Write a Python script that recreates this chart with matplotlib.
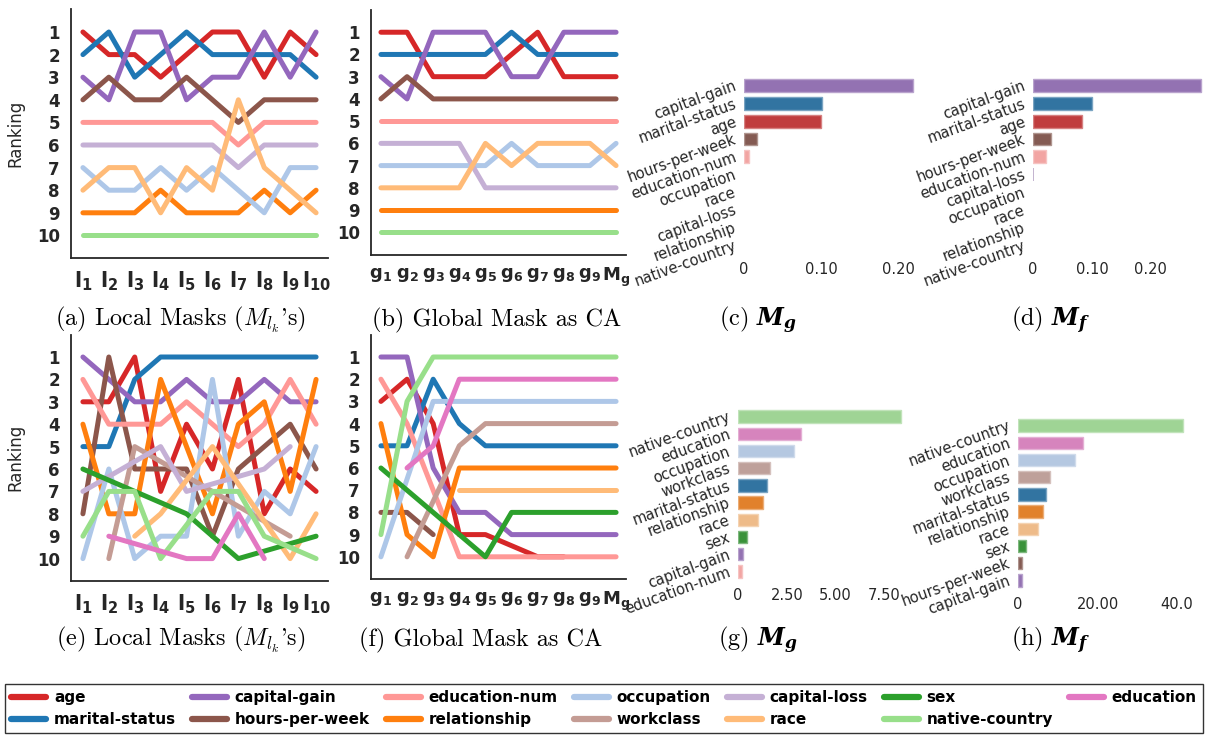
import numpy as np
import matplotlib
matplotlib.use("Agg")
import matplotlib.pyplot as plt
from matplotlib.lines import Line2D
import colorsys
import matplotlib.colors as mcolors

N = np.nan

# ---------------- data ----------------
features = ['age', 'marital-status', 'capital-gain', 'hours-per-week', 'education-num',
            'relationship', 'occupation', 'workclass', 'capital-loss', 'race', 'sex',
            'native-country', 'education']

local_ticks = [r'$\mathbf{l_{%d}}$' % i for i in range(1, 11)]
global_ticks = [r'$\mathbf{g_{%d}}$' % i for i in range(1, 10)] + [r'$\mathbf{M_g}$']
rank_ticks = list(range(1, 11))

# (a) local masks, top row
rank_a = {
    'age':            [1, 2, 2, 3, 2, 1, 1, 3, 1, 2],
    'marital-status': [2, 1, 3, 2, 1, 2, 2, 2, 2, 3],
    'capital-gain':   [3, 4, 1, 1, 4, 3, 3, 1, 3, 1],
    'hours-per-week': [4, 3, 4, 4, 3, 4, 5, 4, 4, 4],
    'education-num':  [5, 5, 5, 5, 5, 5, 6, 5, 5, 5],
    'capital-loss':   [6, 6, 6, 6, 6, 6, 7, 6, 6, 6],
    'occupation':     [7, 8, 8, 7, 8, 7, 8, 9, 7, 7],
    'race':           [8, 7, 7, 9, 7, 8, 4, 7, 8, 9],
    'relationship':   [9, 9, 9, 8, 9, 9, 9, 8, 9, 8],
    'native-country': [10, 10, 10, 10, 10, 10, 10, 10, 10, 10],
}
# (b) global mask as CA, top row
rank_b = {
    'age':            [1, 1, 3, 3, 3, 2, 1, 3, 3, 3],
    'marital-status': [2, 2, 2, 2, 2, 1, 2, 2, 2, 2],
    'capital-gain':   [3, 4, 1, 1, 1, 3, 3, 1, 1, 1],
    'hours-per-week': [4, 3, 4, 4, 4, 4, 4, 4, 4, 4],
    'education-num':  [5, 5, 5, 5, 5, 5, 5, 5, 5, 5],
    'capital-loss':   [6, 6, 6, 6, 8, 8, 8, 8, 8, 8],
    'occupation':     [7, 7, 7, 7, 7, 6, 7, 7, 7, 6],
    'race':           [8, 8, 8, 8, 6, 7, 6, 6, 6, 7],
    'relationship':   [9, 9, 9, 9, 9, 9, 9, 9, 9, 9],
    'native-country': [10, 10, 10, 10, 10, 10, 10, 10, 10, 10],
}
# (e) local masks, bottom row
rank_e = {
    'age':            [3, 3, 1, 7, 4, 6, 2, 8, 6, 7],
    'marital-status': [5, 5, 2, 1, 1, 1, 1, 1, 1, 1],
    'capital-gain':   [1, 2, 3, 3, 2, 3, 3, 2, 3, 3],
    'hours-per-week': [8, 1, 6, 6, 6, 9, 6, 5, 4, 6],
    'education-num':  [2, 4, 4, 4, 3, 4, 5, 4, 2, 4],
    'relationship':   [4, 8, 8, 2, 5, 8, 4, 3, 7, 2],
    'occupation':     [10, 6, 10, 9, 9, 2, 9, 7, 8, 5],
    'workclass':      [N, 10, 5, N, N, N, N, N, 9, N],
    'capital-loss':   [7, N, N, 5, 7, N, N, 6, 5, N],
    'race':           [N, N, 9, 8, N, 5, N, N, 10, 8],
    'sex':            [6, N, N, N, 8, 9, 10, N, N, 9],
    'native-country': [9, 7, 7, 10, N, 7, 7, 9, N, 10],
    'education':      [N, 9, N, N, 10, 10, 8, 10, N, N],
}
# (f) global mask as CA, bottom row
rank_f = {
    'age':            [3, 2, 4, 9, 9, N, 10, 10, N, N],
    'marital-status': [5, 5, 2, 4, 5, 5, 5, 5, 5, 5],
    'capital-gain':   [1, 1, 6, 8, 8, 9, 9, 9, 9, 9],
    'hours-per-week': [8, 8, 9, N, N, N, N, N, N, N],
    'education-num':  [2, 4, 7, 10, 10, 10, 10, 10, 10, 10],
    'relationship':   [4, 9, 10, 6, 6, 6, 6, 6, 6, 6],
    'occupation':     [10, N, 3, 3, 3, 3, 3, 3, 3, 3],
    'workclass':      [N, 10, N, 5, 4, 4, 4, 4, 4, 4],
    'race':           [N, N, N, 7, 7, 7, 7, 7, 7, 7],
    'sex':            [6, N, N, N, 10, 8, 8, 8, 8, 8],
    'native-country': [9, 3, 1, 1, 1, 1, 1, 1, 1, 1],
    'education':      [N, 6, 5, 2, 2, 2, 2, 2, 2, 2],
}

# bar panels
c_labels = ['capital-gain', 'marital-status', 'age', 'hours-per-week', 'education-num',
            'occupation', 'race', 'capital-loss', 'relationship', 'native-country']
c_values = [0.219, 0.101, 0.100, 0.0165, 0.0065, 0, 0, 0, 0, 0]
c_ticks = [0, 0.10, 0.20]
c_ticklabels = ['0', '0.10', '0.20']

d_labels = ['capital-gain', 'marital-status', 'age', 'hours-per-week', 'education-num',
            'capital-loss', 'occupation', 'race', 'relationship', 'native-country']
d_values = [0.285, 0.100, 0.083, 0.031, 0.022, 0.0015, 0, 0, 0, 0]
d_ticks = [0, 0.10, 0.20]
d_ticklabels = ['0', '0.10', '0.20']

g_labels = ['native-country', 'education', 'occupation', 'workclass', 'marital-status',
            'relationship', 'race', 'sex', 'capital-gain', 'education-num']
g_values = [8.36, 3.23, 2.87, 1.64, 1.49, 1.28, 1.0, 0.44, 0.24, 0.22]
g_ticks = [0, 2.5, 5.0, 7.5]
g_ticklabels = ['0', '2.50', '5.00', '7.50']

h_labels = ['native-country', 'education', 'occupation', 'workclass', 'marital-status',
            'relationship', 'race', 'sex', 'hours-per-week', 'capital-gain']
h_values = [41.5, 16.3, 14.3, 8.0, 7.0, 6.2, 5.0, 2.0, 1.1, 1.1]
h_ticks = [0, 20, 40]
h_ticklabels = ['0', '20.00', '40.0']

captions = [r"(a) Local Masks ($M_{l_k}$'s)", "(b) Global Mask as CA",
            r"(c) $\mathbfit{M_g}$", r"(d) $\mathbfit{M_f}$",
            r"(e) Local Masks ($M_{l_k}$'s)", "(f) Global Mask as CA",
            r"(g) $\mathbfit{M_g}$", r"(h) $\mathbfit{M_f}$"]

# ---------------- style ----------------
colors = {
    'age': '#d62728', 'marital-status': '#1f77b4', 'capital-gain': '#9467bd',
    'hours-per-week': '#8c564b', 'education-num': '#ff9896', 'relationship': '#ff7f0e',
    'occupation': '#aec7e8', 'workclass': '#c49c94', 'capital-loss': '#c5b0d5',
    'race': '#ffbb78', 'sex': '#2ca02c', 'native-country': '#98df8a', 'education': '#e377c2',
}
DARK = '#262626'


def desat(c, p=0.75):
    r, g, b = mcolors.to_rgb(c)
    h, l, s = colorsys.rgb_to_hls(r, g, b)
    return colorsys.hls_to_rgb(h, l, s * p)


def lighten(c, f=0.35):
    r, g, b = mcolors.to_rgb(c)
    return (r + (1 - r) * f, g + (1 - g) * f, b + (1 - b) * f)


W, H = 1208, 735
fig = plt.figure(figsize=(W / 100, H / 100), dpi=100)


def box(l, t, r, b):
    return [l / W, 1 - b / H, (r - l) / W, (b - t) / H]


def rank_panel(rect, data, ticks, xlim, ylabel, tfs):
    ax = fig.add_axes(box(*rect))
    x = np.arange(10)
    for f in features:
        if f not in data:
            continue
        y = np.array(data[f], dtype=float)
        m = ~np.isnan(y)
        ax.plot(x[m], y[m], color=colors[f], lw=3.6, solid_capstyle='round',
                solid_joinstyle='round')
    ax.set_ylim(11, 0)
    ax.set_xlim(*xlim)
    ax.set_yticks(rank_ticks)
    ax.set_yticklabels([str(v) for v in rank_ticks], fontsize=12, fontweight='bold', color=DARK)
    ax.set_xticks(x)
    ax.set_xticklabels(ticks, fontsize=tfs, color=DARK, math_fontfamily='dejavusans')
    ax.tick_params(length=0, pad=8)
    for s in ['top', 'right']:
        ax.spines[s].set_visible(False)
    for s in ['left', 'bottom']:
        ax.spines[s].set_color(DARK)
        ax.spines[s].set_linewidth(1.3)
    if ylabel:
        ax.set_ylabel('Ranking', fontsize=12, color=DARK)
        ax.yaxis.set_label_coords(-(71 - 24) / (rect[2] - rect[0]), 0.5)
    return ax


rank_panel((71, 9.4, 328, 258), rank_a, local_ticks, (-0.46, 9.46), True, 15)
rank_panel((371, 10, 626, 254.5), rank_b, global_ticks, (-0.38, 9.38), False, 13)
rank_panel((71, 334.6, 328, 581), rank_e, local_ticks, (-0.46, 9.46), True, 15)
rank_panel((371, 334.8, 626, 579), rank_f, global_ticks, (-0.38, 9.38), False, 13)


def bar_panel(rect, labels, values, ticks, ticklabels, xmax):
    ax = fig.add_axes(box(*rect))
    y = np.arange(len(labels))
    cols = [desat(colors[l]) for l in labels]
    lws = [1.0 if v > 0.02 * xmax else 0.0 for v in values]
    ax.barh(y, values, height=0.72, color=cols, edgecolor=[lighten(c) for c in cols],
            linewidth=lws)
    ax.set_ylim(len(labels) - 0.5, -0.5)
    ax.set_xlim(0, xmax)
    ax.set_yticks(y)
    ax.set_yticklabels(labels, rotation=20, ha='right', va='center', rotation_mode='anchor',
                       fontsize=10.5, color=DARK)
    ax.set_xticks(ticks)
    ax.set_xticklabels(ticklabels, fontsize=10.5, color=DARK)
    ax.tick_params(length=0, pad=6)
    for s in ax.spines.values():
        s.set_visible(False)
    return ax


bar_panel((744, 77, 918, 254), c_labels, c_values, c_ticks, c_ticklabels, 0.225)
bar_panel((1033, 77, 1204, 254), d_labels, d_values, d_ticks, d_ticklabels, 0.29)
bar_panel((738, 408, 906, 580), g_labels, g_values, g_ticks, g_ticklabels, 8.6)
bar_panel((1018, 417, 1185, 589), h_labels, h_values, h_ticks, h_ticklabels, 42)

cap_pos = [(181, 320), (497, 320), (758, 320), (1051, 320),
           (181, 640), (481, 640), (758, 640), (1051, 640)]
for i, ((cx, cy), txt) in enumerate(zip(cap_pos, captions)):
    mff = 'dejavuserif' if i in (2, 3, 6, 7) else 'cm'
    fig.text(cx / W, 1 - cy / H, txt, ha='center', va='center', fontsize=17.5,
             family='cmr10', math_fontfamily=mff, color='black')

handles = [Line2D([0], [0], color=colors[f], lw=4.5, solid_capstyle='round') for f in features]
leg = fig.legend(handles, features, loc='lower left',
                 bbox_to_anchor=(5 / W, 2 / H, 1198 / W, 58 / H), mode='expand', ncol=7,
                 frameon=True, fancybox=False, edgecolor='black', borderaxespad=0,
                 handlelength=2.3, handletextpad=0.5, labelspacing=0.45, borderpad=0.4,
                 prop={'family': 'DejaVu Sans', 'weight': 'bold', 'size': 11})
leg.get_frame().set_linewidth(1.0)

fig.savefig('out.png', dpi=100)
